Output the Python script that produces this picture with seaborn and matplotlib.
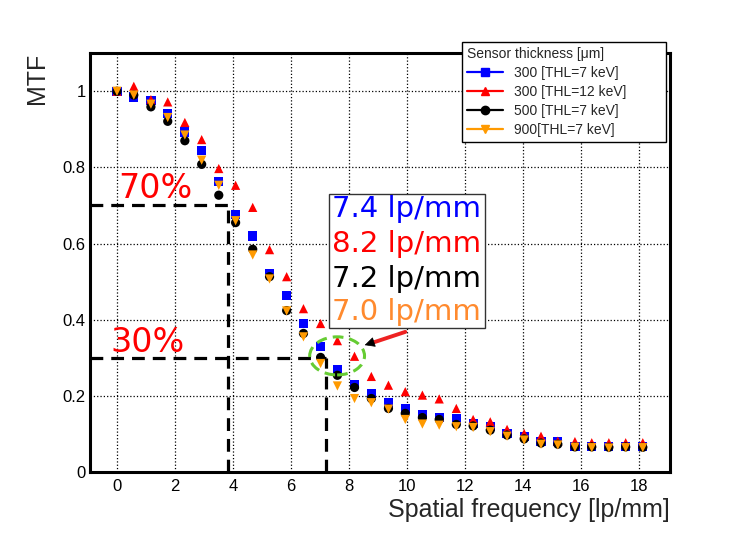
"""
MTF vs spatial frequency for different sensor thicknesses / thresholds
"""

import pandas as pd
import matplotlib
matplotlib.use('Agg')
import matplotlib.pyplot as plt
import seaborn as sns
from matplotlib.lines import Line2D
from matplotlib.patches import Ellipse, Rectangle
from matplotlib.ticker import MultipleLocator, FuncFormatter

sns.set_style('white')
plt.rcParams['font.family'] = ['Liberation Sans', 'DejaVu Sans']

# Data
freq = [0.00, 0.58, 1.17, 1.75, 2.34, 2.92, 3.51, 4.09, 4.68, 5.26, 5.85,
        6.43, 7.02, 7.60, 8.19, 8.77, 9.36, 9.94, 10.53, 11.11, 11.70,
        12.28, 12.87, 13.45, 14.04, 14.62, 15.20, 15.79, 16.37, 16.96,
        17.54, 18.13]

mtf_300_thl7 = [1.000, 0.985, 0.975, 0.941, 0.893, 0.845, 0.762, 0.676, 0.620,
                0.521, 0.463, 0.391, 0.329, 0.269, 0.229, 0.207, 0.183, 0.167,
                0.152, 0.144, 0.141, 0.128, 0.119, 0.101, 0.094, 0.080, 0.080,
                0.068, 0.068, 0.066, 0.068, 0.066]
mtf_300_thl12 = [1.000, 1.013, 0.978, 0.972, 0.918, 0.873, 0.797, 0.753, 0.695,
                 0.584, 0.513, 0.429, 0.390, 0.345, 0.304, 0.251, 0.228, 0.211,
                 0.202, 0.192, 0.167, 0.138, 0.132, 0.112, 0.101, 0.094, 0.081,
                 0.080, 0.077, 0.077, 0.077, 0.077]
mtf_500_thl7 = [1.000, 0.990, 0.959, 0.921, 0.870, 0.808, 0.727, 0.655, 0.585,
                0.513, 0.424, 0.364, 0.301, 0.254, 0.222, 0.193, 0.167, 0.154,
                0.143, 0.138, 0.125, 0.121, 0.110, 0.097, 0.087, 0.076, 0.073,
                0.066, 0.066, 0.065, 0.066, 0.065]
mtf_900_thl7 = [1.000, 0.990, 0.966, 0.931, 0.885, 0.819, 0.753, 0.660, 0.570,
                0.507, 0.423, 0.355, 0.285, 0.226, 0.193, 0.182, 0.165, 0.138,
                0.126, 0.123, 0.119, 0.117, 0.106, 0.094, 0.084, 0.073, 0.071,
                0.065, 0.064, 0.063, 0.064, 0.064]

series_names = ['300 [THL=7 keV]', '300 [THL=12 keV]', '500 [THL=7 keV]', '900[THL=7 keV]']
series_values = [mtf_300_thl7, mtf_300_thl12, mtf_500_thl7, mtf_900_thl7]
colores = ['#0000ff', '#ff0000', '#000000', '#ff9a00']
marcadores = ['s', '^', 'o', 'v']

res_labels = ['7.4 lp/mm', '8.2 lp/mm', '7.2 lp/mm', '7.0 lp/mm']
res_colors = ['#0000ff', '#ff0000', '#000000', '#ff8a2e']

f70, f30 = 3.84, 7.22

# Long-format table
df = pd.concat([pd.DataFrame({'freq': freq, 'mtf': v, 'serie': n})
                for n, v in zip(series_names, series_values)], ignore_index=True)

fig = plt.figure(figsize=(7.47, 5.37), dpi=100)
ax = fig.add_axes([0.1205, 0.121, 0.7765, 0.780])

sns.scatterplot(data=df, x='freq', y='mtf', hue='serie', style='serie',
                palette=dict(zip(series_names, colores)),
                markers=dict(zip(series_names, marcadores)),
                s=44, linewidth=0, legend=False, ax=ax, zorder=4)

ax.set_xlim(-0.93, 19.07)
ax.set_ylim(0, 1.1)

# Axes / ticks ROOT style
ax.xaxis.set_major_locator(MultipleLocator(2))
ax.xaxis.set_minor_locator(MultipleLocator(0.4))
ax.yaxis.set_major_locator(MultipleLocator(0.2))
ax.yaxis.set_minor_locator(MultipleLocator(0.05))
ax.yaxis.set_major_formatter(FuncFormatter(lambda v, p: '%g' % round(v, 2)))
ax.tick_params(axis='both', which='both', direction='in', labelsize=12, colors='black')
ax.tick_params(axis='x', which='major', length=7, width=1, pad=5)
ax.tick_params(axis='x', which='minor', length=3.5, width=1)
ax.tick_params(axis='y', which='major', length=12, width=1, pad=3)
ax.tick_params(axis='y', which='minor', length=7, width=1)
for sp in ax.spines.values():
    sp.set_linewidth(2.2)
    sp.set_color('black')
ax.grid(True, which='major', linestyle=':', color='black', linewidth=0.9, zorder=0)
ax.set_axisbelow(True)

ax.set_xlabel('Spatial frequency [lp/mm]', fontsize=18, loc='right')
ax.set_ylabel('MTF', fontsize=18, loc='top')
ax.xaxis.set_label_coords(1.0, -0.062)
ax.yaxis.set_label_coords(-0.07, 1.0)

# 70% / 30% guide lines
dash = (0, (4, 2.5))
ax.plot([-0.93, f70], [0.7, 0.7], color='black', lw=2.3, linestyle=dash, zorder=3)
ax.plot([f70, f70], [0, 0.7], color='black', lw=2.3, linestyle=dash, zorder=3)
ax.plot([-0.93, f30], [0.3, 0.3], color='black', lw=2.3, linestyle=dash, zorder=3)
ax.plot([f30, f30], [0, 0.3], color='black', lw=2.3, linestyle=dash, zorder=3)
ax.text(0.03, 0.719, '70%', color='#ff0000', fontsize=24, family='DejaVu Sans', zorder=5)
ax.text(-0.24, 0.315, '30%', color='#ff0000', fontsize=24, family='DejaVu Sans', zorder=5)

# Resolution box
ax.add_patch(Rectangle((7.30, 0.377), 5.40, 0.353, facecolor='white',
                       edgecolor='#333333', lw=1.0, zorder=5))
for lab, col, yy in zip(res_labels, res_colors, [0.670, 0.578, 0.486, 0.399]):
    ax.text(7.41, yy, lab, color=col, fontsize=21, family='DejaVu Sans', zorder=6)

# Green ellipse and arrow
ax.add_patch(Ellipse((7.59, 0.305), 1.89, 0.10, fill=False, edgecolor='#66cc33',
                     lw=2.2, linestyle=(0, (3.5, 2)), zorder=5))
ax.plot([9.94, 8.75], [0.368, 0.338], color='#ee2222', lw=2.8, zorder=5)
ax.annotate('', xy=(8.45, 0.331), xytext=(8.85, 0.341),
            arrowprops=dict(arrowstyle='-|>', color='black', lw=0.5,
                            mutation_scale=16), zorder=6)

# Legend
handles = [Line2D([0], [0], color=c, marker=m, markersize=6, lw=1.6)
           for c, m in zip(colores, marcadores)]
leg = fig.legend(handles, series_names, title='Sensor thickness [\u03bcm]',
                 loc='upper left', bbox_to_anchor=(0.618, 0.734, 0.274, 0.188),
                 mode='expand', fontsize=10,
                 title_fontsize=10, frameon=True, fancybox=False, framealpha=1,
                 edgecolor='black', borderaxespad=0, labelspacing=0.35,
                 handlelength=2.6, alignment='left', borderpad=0.4)
leg.get_frame().set_linewidth(1.0)

plt.savefig('out.png', dpi=100)
